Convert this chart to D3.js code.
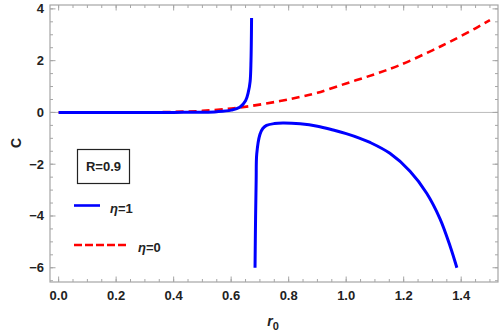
<!DOCTYPE html>
<html lang="en">
<head>
    <meta charset="UTF-8">
    <title>C vs r0</title>
    <script src="https://d3js.org/d3.v7.min.js"></script>
    <style>
        body { margin: 0; background: #fff; }
        text { font-family: "Liberation Sans", Arial, sans-serif; }
    </style>
</head>
<body>
    <svg id="chart" width="500" height="334"></svg>

    <script>
        // eta = 1, branch below the pole
        const eta1LowR = [0.683, 0.685, 0.687, 0.689, 0.70, 0.71, 0.723, 0.75, 0.78, 0.84, 0.90, 0.955, 1.0, 1.048, 1.083, 1.152, 1.222, 1.28, 1.326, 1.361, 1.385];
        const eta1LowC = [-6, -4, -2.6, -1.6, -0.85, -0.62, -0.5, -0.43, -0.41, -0.44, -0.53, -0.68, -0.82, -1.0, -1.16, -1.58, -2.27, -3.12, -4.1, -5.15, -6];
        // eta = 1, branch up to the pole
        const eta1UpR = [0, 0.1, 0.2, 0.3, 0.4, 0.45, 0.5, 0.55, 0.6, 0.63, 0.65, 0.66, 0.666, 0.669, 0.671];
        const eta1UpC = [0, 0, 0, 0, 0.002, 0.005, 0.01, 0.03, 0.09, 0.2, 0.45, 0.8, 1.2, 2.0, 3.65];
        // eta = 0
        const eta0R = [0, 0.1, 0.2, 0.3, 0.4, 0.5, 0.6, 0.663, 0.77, 0.84, 0.9, 1.0, 1.1, 1.187, 1.3, 1.361, 1.45, 1.5];
        const eta0C = [0, 0, 0, 0.005, 0.02, 0.06, 0.15, 0.24, 0.44, 0.60, 0.76, 1.12, 1.48, 1.83, 2.4, 2.73, 3.25, 3.57];

        const xTicks = [0, 0.2, 0.4, 0.6, 0.8, 1.0, 1.2, 1.4];
        const yTicks = [-6, -4, -2, 0, 2, 4];
        const legendValues = ["=1", "=0"];
        const boxLabel = "R=0.9";

        const pLeft = 50, pRight = 498, pTop = 5, pBottom = 282;
        const svg = d3.select("#chart");

        const x = d3.scaleLinear().domain([-0.03, 1.528]).range([pLeft, pRight]);
        const y = d3.scaleLinear().domain([-6.55, 4.15]).range([pBottom, pTop]);

        const frame = "#a6a6a6";

        // zero line
        svg.append("line")
            .attr("x1", pLeft).attr("x2", pRight)
            .attr("y1", y(0)).attr("y2", y(0))
            .attr("stroke", "#bbbbbb").attr("stroke-width", 1);

        // ticks on all four sides, pointing inward
        const xMinor = d3.range(0, 1.51, 0.05);
        const yMinor = d3.range(-6.5, 4.01, 0.5);

        function drawTicks(vals, len, side) {
            vals.forEach(function(v) {
                const l = svg.append("line").attr("stroke", frame).attr("stroke-width", 1);
                if (side === "b") l.attr("x1", x(v)).attr("x2", x(v)).attr("y1", pBottom).attr("y2", pBottom - len);
                if (side === "t") l.attr("x1", x(v)).attr("x2", x(v)).attr("y1", pTop).attr("y2", pTop + len);
                if (side === "l") l.attr("y1", y(v)).attr("y2", y(v)).attr("x1", pLeft).attr("x2", pLeft + len);
                if (side === "r") l.attr("y1", y(v)).attr("y2", y(v)).attr("x1", pRight).attr("x2", pRight - len);
            });
        }
        ["b", "t"].forEach(function(s) { drawTicks(xMinor, 3, s); drawTicks(xTicks, 5.5, s); });
        ["l", "r"].forEach(function(s) { drawTicks(yMinor, 3, s); drawTicks(yTicks, 5.5, s); });

        svg.append("rect")
            .attr("x", pLeft).attr("y", pTop)
            .attr("width", pRight - pLeft).attr("height", pBottom - pTop)
            .attr("fill", "none").attr("stroke", frame).attr("stroke-width", 1.2);

        // tick labels
        svg.selectAll(".xlab")
            .data(xTicks)
            .enter().append("text")
            .attr("x", function(d) { return x(d); })
            .attr("y", pBottom + 18)
            .attr("text-anchor", "middle")
            .attr("font-size", 13).attr("font-weight", "bold")
            .attr("fill", "#222")
            .text(function(d) { return d3.format(".1f")(d); });

        svg.selectAll(".ylab")
            .data(yTicks)
            .enter().append("text")
            .attr("x", pLeft - 6)
            .attr("y", function(d) { return y(d) + 4.5; })
            .attr("text-anchor", "end")
            .attr("font-size", 13).attr("font-weight", "bold")
            .attr("fill", "#222")
            .text(function(d) { return d < 0 ? "\u2212" + (-d) : d; });

        // axis titles
        svg.append("text")
            .attr("transform", "translate(21,143) rotate(-90)")
            .attr("text-anchor", "middle")
            .attr("font-size", 14).attr("font-weight", "bold")
            .attr("fill", "#222")
            .text("C");

        const xt = svg.append("text")
            .attr("x", 273).attr("y", 326)
            .attr("text-anchor", "middle")
            .attr("font-size", 14).attr("font-weight", "bold")
            .attr("fill", "#222");
        xt.append("tspan").attr("font-style", "italic").text("r");
        xt.append("tspan").attr("font-size", 11).attr("dy", 4).text("0");

        // curves
        const line = d3.line()
            .x(function(d) { return x(d[0]); })
            .y(function(d) { return y(d[1]); })
            .curve(d3.curveCatmullRom.alpha(0.5));

        svg.append("path")
            .datum(d3.zip(eta0R, eta0C))
            .attr("d", line)
            .attr("fill", "none").attr("stroke", "#ff0000")
            .attr("stroke-width", 2.6).attr("stroke-dasharray", "8,5");

        svg.append("path")
            .datum(d3.zip(eta1UpR, eta1UpC))
            .attr("d", line)
            .attr("fill", "none").attr("stroke", "#0000ff")
            .attr("stroke-width", 3);

        svg.append("path")
            .datum(d3.zip(eta1LowR, eta1LowC))
            .attr("d", line)
            .attr("fill", "none").attr("stroke", "#0000ff")
            .attr("stroke-width", 3);

        // legend
        svg.append("rect")
            .attr("x", 77.5).attr("y", 149.5)
            .attr("width", 52).attr("height", 34)
            .attr("fill", "#fff").attr("stroke", "#222").attr("stroke-width", 1.2);
        svg.append("text")
            .attr("x", 103.5).attr("y", 171)
            .attr("text-anchor", "middle")
            .attr("font-size", 13).attr("font-weight", "bold")
            .attr("fill", "#222")
            .text(boxLabel);

        function legendText(xPos, yPos, val) {
            const t = svg.append("text")
                .attr("x", xPos).attr("y", yPos)
                .attr("font-size", 13).attr("font-weight", "bold")
                .attr("fill", "#222");
            t.append("tspan").attr("font-style", "italic").text("\u03B7");
            t.append("tspan").text(val);
        }

        svg.append("line")
            .attr("x1", 74).attr("x2", 100).attr("y1", 205.5).attr("y2", 205.5)
            .attr("stroke", "#0000ff").attr("stroke-width", 2.6);
        legendText(110, 213, legendValues[0]);

        svg.append("line")
            .attr("x1", 74).attr("x2", 127).attr("y1", 245).attr("y2", 245)
            .attr("stroke", "#ff0000").attr("stroke-width", 2.6).attr("stroke-dasharray", "8,3");
        legendText(138, 252, legendValues[1]);
    </script>
</body>
</html>
